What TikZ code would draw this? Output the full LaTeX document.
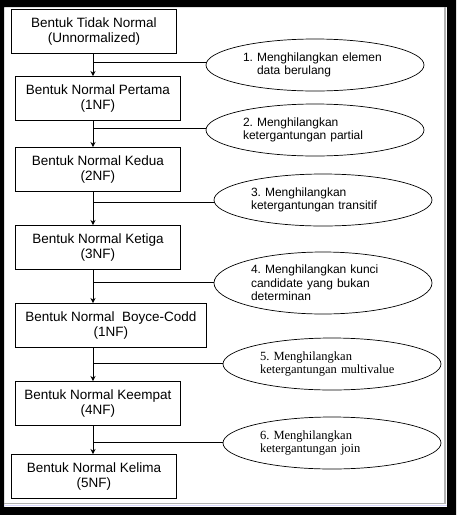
\documentclass[tikz,border=0pt]{standalone}
\usepackage{fontspec}
\setmainfont{Liberation Sans}
\newfontfamily\timesfont{Liberation Serif}
\usetikzlibrary{arrows.meta,shapes.geometric}
\frenchspacing

\begin{document}
\begin{tikzpicture}[x=1pt,y=-1pt,
    nf/.style={draw,line width=0.9pt,anchor=north west,align=center,inner sep=0pt,minimum width=165pt,minimum height=44pt,font=\fontsize{13.5}{15}\selectfont},
    langkah/.style={draw,ellipse,line width=0.7pt,inner sep=0pt,minimum width=218pt,minimum height=52pt,text width=144pt,align=left,font=\fontsize{12}{13.5}\selectfont},
    serif/.style={font=\timesfont\fontsize{12.5}{13.5}\selectfont},
    arr/.style={-{Stealth[length=5pt,width=5pt]},line width=0.9pt},
    con/.style={line width=0.9pt}]
      \useasboundingbox (0,0) rectangle (456,515);
      % frame of the screenshot
      \fill[black,even odd rule] (0,0) rectangle (456,515) (4,7) rectangle (447,507);
      \draw[gray!60,line width=1.5pt] (445,7) -- (445,503.5) -- (4,503.5);
      \draw[blue!15,line width=1pt] (4,505.5) -- (447,505.5);
      % normal forms
      \node[nf] (b0) at (11,9) {Bentuk Tidak Normal\\(Unnormalized)};
      \node[nf] (b1) at (15,76) {Bentuk Normal Pertama\\(1NF)};
      \node[nf] (b2) at (15,147) {Bentuk Normal Kedua\\(2NF)};
      \node[nf] (b3) at (15,225) {Bentuk Normal Ketiga\\(3NF)};
      \node[nf,minimum width=191pt] (b4) at (15,303) {Bentuk Normal\ \ Boyce-Codd\\(1NF)};
      \node[nf] (b5) at (15,381) {Bentuk Normal Keempat\\(4NF)};
      \node[nf] (b6) at (11,454) {Bentuk Normal Kelima\\(5NF)};
      % steps
      \node[langkah] (e1) at (315,65) {1. Menghilangkan elemen\\\hspace*{14pt}data berulang};
      \node[langkah] (e2) at (315,130) {2. Menghilangkan\\ketergantungan partial};
      \node[langkah] (e3) at (323,200) {3. Menghilangkan\\ketergantungan transitif};
      \node[langkah,minimum height=62pt] (e4) at (323,283) {4. Menghilangkan kunci\\candidate yang bukan\\determinan};
      \node[langkah,serif] (e5) at (332,364) {5. Menghilangkan\\ketergantungan multivalue};
      \node[langkah,serif] (e6) at (332,443) {6. Menghilangkan\\ketergantungan join};
      % junctions on the main line
      \coordinate (j1) at (93,62);
      \coordinate (j2) at (93,128);
      \coordinate (j3) at (93,202);
      \coordinate (j4) at (93,282);
      \coordinate (j5) at (93,363);
      \coordinate (j6) at (93,442);
      \draw[arr] (b0.south -| j1) -- (b1.north -| j1);
      \draw[arr] (b1.south -| j2) -- (b2.north -| j2);
      \draw[arr] (b2.south -| j3) -- (b3.north -| j3);
      \draw[arr] (b3.south -| j4) -- (b4.north -| j4);
      \draw[arr] (b4.south -| j5) -- (b5.north -| j5);
      \draw[arr] (b5.south -| j6) -- (b6.north -| j6);
      \draw[con] (j1) -- (j1 -| e1.west);
      \draw[con] (j2) -- (j2 -| e2.west);
      \draw[con] (j3) -- (j3 -| e3.west);
      \draw[con] (j4) -- (j4 -| e4.west);
      \draw[con] (j5) -- (j5 -| e5.west);
      \draw[con] (j6) -- (j6 -| e6.west);
    \end{tikzpicture}
\end{document}
